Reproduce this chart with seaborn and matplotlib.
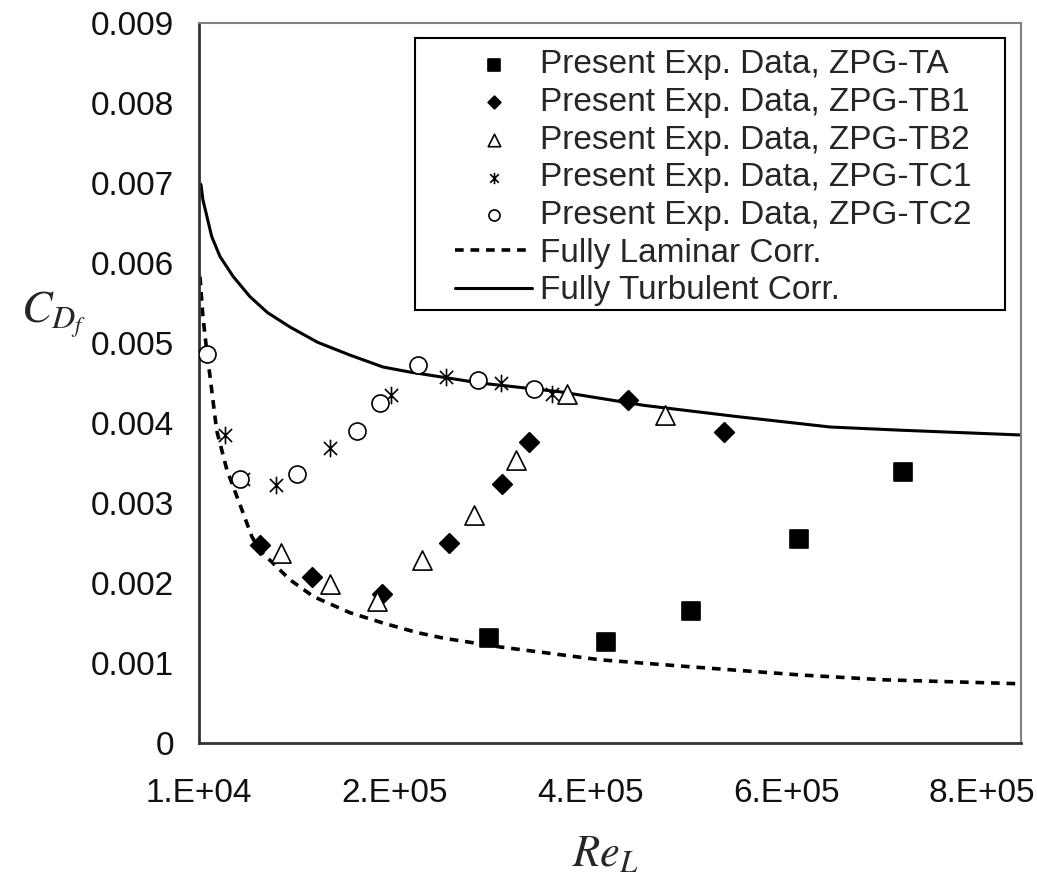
import matplotlib
matplotlib.use("Agg")
import matplotlib.pyplot as plt
from matplotlib.path import Path
from matplotlib.patches import Rectangle
import pandas as pd
import seaborn as sns

# Skin-friction drag coefficient vs. plate Reynolds number, per test series
re_ta = [3.06e5, 4.26e5, 5.13e5, 6.23e5, 7.29e5]
cdf_ta = [0.00131, 0.00126, 0.00165, 0.00255, 0.00339]

re_tb1 = [7.2e4, 1.25e5, 1.97e5, 2.65e5, 3.20e5, 3.47e5, 4.48e5, 5.47e5]
cdf_tb1 = [0.00248, 0.00208, 0.00186, 0.00250, 0.00324, 0.00376, 0.00429, 0.00389]

re_tb2 = [9.4e4, 1.44e5, 1.92e5, 2.38e5, 2.91e5, 3.34e5, 3.86e5, 4.86e5]
cdf_tb2 = [0.00238, 0.00199, 0.00178, 0.00229, 0.00285, 0.00354, 0.00436, 0.00410]

re_tc1 = [3.7e4, 5.5e4, 8.9e4, 1.44e5, 2.06e5, 2.62e5, 3.19e5, 3.71e5]
cdf_tc1 = [0.00385, 0.00330, 0.00323, 0.00369, 0.00435, 0.00458, 0.00450, 0.00436]

re_tc2 = [1.8e4, 5.2e4, 1.10e5, 1.71e5, 1.95e5, 2.34e5, 2.95e5, 3.52e5]
cdf_tc2 = [0.00486, 0.00330, 0.00336, 0.00390, 0.00425, 0.00473, 0.00454, 0.00443]

# Correlation curves
re_lam = [1.1e4, 1.4e4, 1.7e4, 2.3e4, 2.8e4, 3.86e4, 5.4e4, 6.4e4, 7.2e4, 1.03e5,
          1.27e5, 1.64e5, 1.98e5, 2.33e5, 2.6e5, 3.18e5, 4.2e5, 5.15e5, 6.25e5,
          7.1e5, 8.5e5]
cdf_lam = [0.00583, 0.00533, 0.00500, 0.00441, 0.00391, 0.00341, 0.00291, 0.00258,
           0.00241, 0.00204, 0.00183, 0.00163, 0.00150, 0.00138, 0.00131, 0.00120,
           0.00104, 0.00095, 0.00085, 0.00079, 0.00074]

re_turb = [1.0e4, 1.2e4, 1.4e4, 2.3e4, 3.15e4, 4.5e4, 6.2e4, 8.0e4, 1.03e5, 1.31e5,
           1.64e5, 1.98e5, 2.24e5, 2.97e5, 3.79e5, 4.65e5, 5.6e5, 6.55e5, 7.27e5,
           8.5e5]
cdf_turb = [0.00700, 0.00698, 0.00679, 0.00633, 0.00608, 0.00583, 0.00558, 0.00538,
            0.00520, 0.00501, 0.00485, 0.00470, 0.00464, 0.00450, 0.00439, 0.00422,
            0.00408, 0.00395, 0.00391, 0.00385]

x_ticks = [1e4, 2.1e5, 4.1e5, 6.1e5, 8.1e5]
x_tick_labels = ["1.E+04", "2.E+05", "4.E+05", "6.E+05", "8.E+05"]
y_ticks = [0, 0.001, 0.002, 0.003, 0.004, 0.005, 0.006, 0.007, 0.008, 0.009]
y_tick_labels = ["0", "0.001", "0.002", "0.003", "0.004", "0.005", "0.006",
                 "0.007", "0.008", "0.009"]

sns.set_style("white")
plt.rcParams["font.family"] = ["Liberation Sans", "DejaVu Sans"]
plt.rcParams["mathtext.fontset"] = "stix"

fig = plt.figure(figsize=(10.37, 8.83), dpi=100)
ax = fig.add_axes([199 / 1037, 140 / 883, 822 / 1037, 720 / 883])

# Correlation lines (drawn beneath the measured points)
sns.lineplot(x=re_lam, y=cdf_lam, ax=ax, color="black", lw=2.6,
             label="Fully Laminar Corr.", zorder=2)
ax.lines[-1].set_dashes((2.4, 1.9))
sns.lineplot(x=re_turb, y=cdf_turb, ax=ax, color="black", lw=2.2,
             label="Fully Turbulent Corr.", zorder=2)

star = Path([(0, -1), (0, 1), (-0.75, -0.75), (0.75, 0.75), (-0.75, 0.75), (0.75, -0.75)],
            [Path.MOVETO, Path.LINETO] * 3)

series = [
    (re_ta, cdf_ta, "s", 170, True, "Present Exp. Data, ZPG-TA"),
    (re_tb1, cdf_tb1, "D", 100, True, "Present Exp. Data, ZPG-TB1"),
    (re_tb2, cdf_tb2, "^", 190, False, "Present Exp. Data, ZPG-TB2"),
    (re_tc1, cdf_tc1, star, 160, True, "Present Exp. Data, ZPG-TC1"),
    (re_tc2, cdf_tc2, "o", 150, False, "Present Exp. Data, ZPG-TC2"),
]
for xs, ys, mk, size, filled, lab in series:
    df = pd.DataFrame({"Re": xs, "Cdf": ys})
    sns.scatterplot(data=df, x="Re", y="Cdf", ax=ax, marker=mk, s=size,
                    color="black", edgecolor="black", linewidth=1.2,
                    label=lab, zorder=3)
    if not filled:
        coll = ax.collections[-1]
        coll.set_facecolor("white")
        coll.set_edgecolor("black")

ax.set_xlim(1e4, 8.5e5)
ax.set_ylim(0, 0.009)
ax.set_xticks(x_ticks)
ax.set_xticklabels(x_tick_labels)
ax.set_yticks(y_ticks)
ax.set_yticklabels(y_tick_labels)
ax.tick_params(axis="both", direction="out", length=7, width=1.5,
               color="#333333", labelsize=24, labelcolor="#111111")
ax.tick_params(axis="x", pad=18)
ax.tick_params(axis="y", pad=11)

for side in ["left", "bottom"]:
    ax.spines[side].set_color("#333333")
    ax.spines[side].set_linewidth(2.0)
for side in ["top", "right"]:
    ax.spines[side].set_color("#808080")
    ax.spines[side].set_linewidth(1.5)

ax.set_xlabel("$Re_L$", fontsize=32)
ax.xaxis.set_label_coords(0.494, -0.155)
ax.xaxis.label.set_va("center")
ax.set_ylabel("$C_{D_f}$", fontsize=33, rotation=0)
ax.yaxis.set_label_coords(-0.137, 0.595)
ax.yaxis.label.set_va("center")
ax.yaxis.label.set_ha("right")

# Legend: boxed panel in the upper right of the plot area
ax.add_patch(Rectangle((0.2628, 0.6014), 0.7178, 0.3778, transform=ax.transAxes,
                       facecolor="white", edgecolor="black", lw=1.5, zorder=4))
handles, labels = ax.get_legend_handles_labels()
order = [labels.index(s[5]) for s in series] + [
    labels.index("Fully Laminar Corr."), labels.index("Fully Turbulent Corr.")]
leg = ax.legend([handles[i] for i in order], [labels[i] for i in order],
                loc="upper left", bbox_to_anchor=(0.312, 0.9635),
                borderaxespad=0, borderpad=0, fontsize=24, frameon=False,
                markerscale=0.65, handlelength=2.3, handletextpad=0.25,
                labelspacing=0.2)
leg.set_zorder(5)

fig.savefig("out.png", dpi=100, facecolor="white")
